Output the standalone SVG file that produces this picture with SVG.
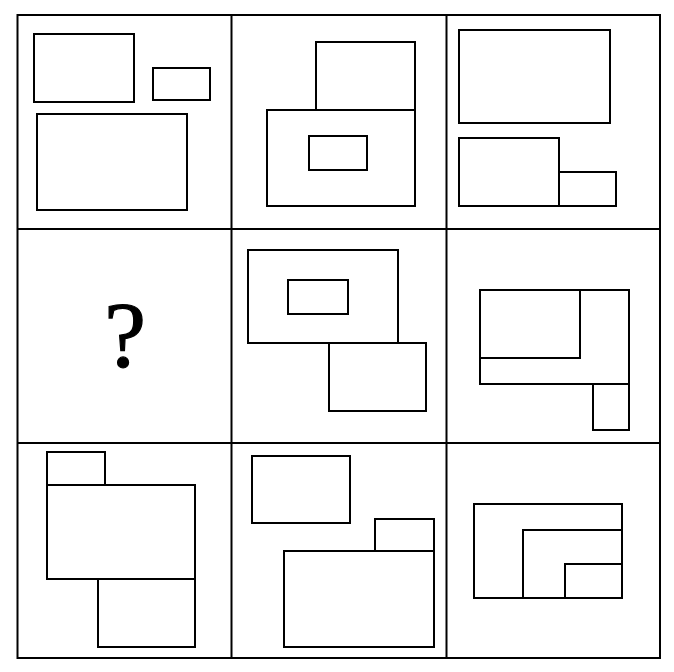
<svg xmlns="http://www.w3.org/2000/svg" width="674" height="672" viewBox="0 0 674 672">
<style>
rect{fill:none;stroke:#000;stroke-width:2}
line{stroke:#000;stroke-width:2}
.q{font-family:"Liberation Serif","Times New Roman",serif;font-size:94px;fill:#000;stroke:#000;stroke-width:1.2}
</style>
<rect x="0" y="0" width="674" height="672" style="fill:#fff;stroke:none"/>
<g id="grid">
<rect x="17.5" y="15" width="642.5" height="643"/>
<line x1="231.5" y1="15" x2="231.5" y2="658"/>
<line x1="446.5" y1="15" x2="446.5" y2="658"/>
<line x1="17.5" y1="229" x2="660" y2="229"/>
<line x1="17.5" y1="443" x2="660" y2="443"/>
</g>
<g id="p1">
<rect x="34" y="34" width="100" height="68"/>
<rect x="153" y="68" width="57" height="32"/>
<rect x="37" y="114" width="150" height="96"/>
</g>
<g id="p2">
<rect x="316" y="42" width="99" height="68"/>
<rect x="267" y="110" width="148" height="96"/>
<rect x="309" y="136" width="58" height="34"/>
</g>
<g id="p3">
<rect x="459" y="30" width="151" height="93"/>
<rect x="459" y="138" width="100" height="68"/>
<rect x="559" y="172" width="57" height="34"/>
</g>
<g id="p4">
<text class="q" x="125" y="366" text-anchor="middle">?</text>
</g>
<g id="p5">
<rect x="248" y="250" width="150" height="93"/>
<rect x="288" y="280" width="60" height="34"/>
<rect x="329" y="343" width="97" height="68"/>
</g>
<g id="p6">
<rect x="480" y="290" width="149" height="94"/>
<rect x="480" y="290" width="100" height="68"/>
<rect x="593" y="384" width="36" height="46"/>
</g>
<g id="p7">
<rect x="47" y="452" width="58" height="33"/>
<rect x="47" y="485" width="148" height="94"/>
<rect x="98" y="579" width="97" height="68"/>
</g>
<g id="p8">
<rect x="252" y="456" width="98" height="67"/>
<rect x="375" y="519" width="59" height="32"/>
<rect x="284" y="551" width="150" height="96"/>
</g>
<g id="p9">
<rect x="474" y="504" width="148" height="94"/>
<rect x="523" y="530" width="99" height="68"/>
<rect x="565" y="564" width="57" height="34"/>
</g>
</svg>
